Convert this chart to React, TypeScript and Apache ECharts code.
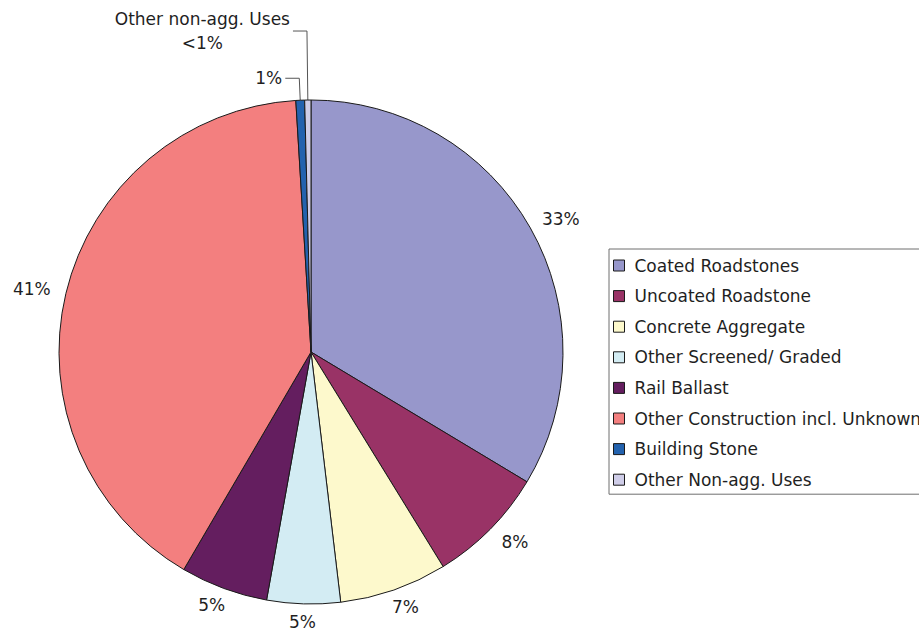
import React, { useEffect, useRef } from "react";
import * as echarts from "echarts";

const categories = [
  "Coated Roadstones",
  "Uncoated Roadstone",
  "Concrete Aggregate",
  "Other Screened/ Graded",
  "Rail Ballast",
  "Other Construction incl. Unknown",
  "Building Stone",
  "Other Non-agg. Uses",
];
const values = [33.6, 7.6, 6.9, 4.7, 5.6, 40.6, 0.56, 0.4];
const percentLabels = ["33%", "8%", "7%", "5%", "5%", "41%", "1%", "<1%"];
const calloutNames = ["", "", "", "", "", "", "", "Other non-agg. Uses"];
const colors = [
  "#9797cb",
  "#993366",
  "#fdf9cc",
  "#d3ecf3",
  "#641e5f",
  "#f37f7f",
  "#2362ae",
  "#cfcde8",
];

export default function App() {
  const ref = useRef<HTMLDivElement>(null);
  useEffect(() => {
    const chart = echarts.init(ref.current!, null, { renderer: "svg" });
    const font = "DejaVu Sans";
    const textColor = "#1f1f1f";
    const center = [311, 352];
    const labelRx = 287;
    const labelRy = 270;

    const pieData = categories.map((name, i) => {
      const callout = i >= 6;
      return {
        name,
        value: values[i],
        itemStyle: { color: colors[i] },
        label: { show: callout },
        labelLine: callout
          ? { show: true, length: i === 6 ? 22 : 69, length2: 14 }
          : { show: false },
      };
    });

    const ringData = categories.map((name, i) => ({
      name,
      value: values[i],
      label: { show: i < 6 },
    }));

    chart.setOption({
      animation: false,
      legend: {
        orient: "vertical",
        left: 609,
        top: 249,
        padding: [8, 6, 6, 4],
        itemGap: 13.6,
        itemWidth: 11,
        itemHeight: 11,
        icon: "rect",
        borderColor: "#6e6e6e",
        borderWidth: 1,
        data: categories,
        itemStyle: { borderColor: "#1a1a1a", borderWidth: 1 },
        textStyle: {
          fontFamily: font,
          fontSize: 17,
          lineHeight: 17,
          color: textColor,
          padding: [0, 0, 0, 5],
        },
      },
      series: [
        {
          type: "pie",
          center,
          radius: 252,
          startAngle: 90,
          clockwise: true,
          avoidLabelOverlap: false,
          emphasis: { disabled: true },
          itemStyle: { borderColor: "#1a1a1a", borderWidth: 1 },
          label: {
            position: "outside",
            fontFamily: font,
            fontSize: 17,
            color: textColor,
            distanceToLabelLine: 3,
            formatter: (p: any) =>
              calloutNames[p.dataIndex]
                ? `{c|${calloutNames[p.dataIndex]}}\n{c|${percentLabels[p.dataIndex]}}`
                : percentLabels[p.dataIndex],
            rich: {
              c: {
                align: "center",
                fontFamily: font,
                fontSize: 17,
                lineHeight: 24,
                color: textColor,
              },
            },
          },
          labelLine: {
            lineStyle: { color: "#555555", width: 1 },
          },
          data: pieData,
        },
        {
          type: "pie",
          center,
          radius: [252, 312],
          startAngle: 90,
          clockwise: true,
          silent: true,
          avoidLabelOverlap: false,
          emphasis: { disabled: true },
          itemStyle: { color: "transparent", borderWidth: 0 },
          label: {
            position: "inside",
            fontFamily: font,
            fontSize: 17,
            color: textColor,
            formatter: (p: any) => percentLabels[p.dataIndex],
          },
          labelLine: { show: false },
          labelLayout: (p: any) => {
            const r = p.labelRect;
            const lx = r.x + r.width / 2;
            const ly = r.y + r.height / 2;
            const dx = lx - center[0];
            const dy = ly - center[1];
            const d = Math.sqrt(dx * dx + dy * dy) || 1;
            return {
              x: center[0] + (dx / d) * labelRx,
              y: center[1] + (dy / d) * labelRy,
              align: "center",
              verticalAlign: "middle",
            };
          },
          data: ringData,
        },
      ],
    });
    return () => chart.dispose();
  }, []);

  return (
    <div
      ref={ref}
      style={{ position: "absolute", left: 0, top: 0, width: 919, height: 633, background: "#ffffff" }}
    />
  );
}
